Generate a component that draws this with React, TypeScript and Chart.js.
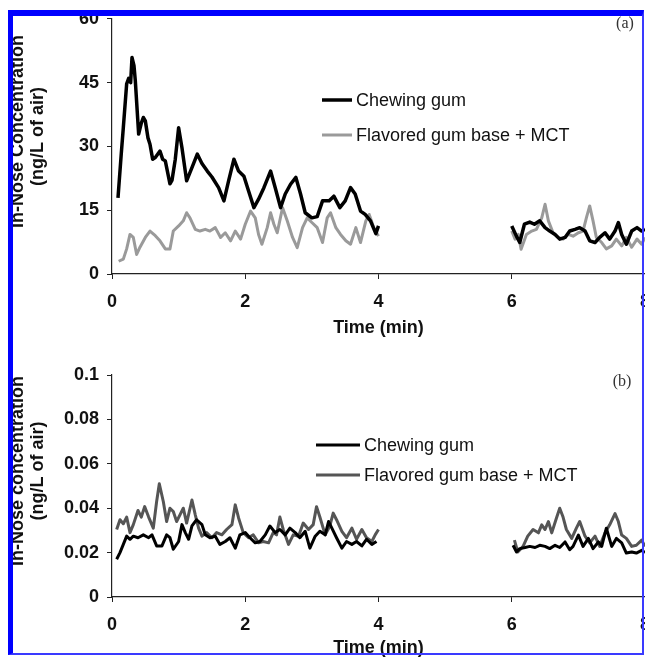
import React, { useEffect, useRef } from 'react';
import { Chart, registerables } from 'chart.js';

Chart.register(...registerables);

// ---------- data ----------
const timeTicks = [0, 2, 4, 6, 8];
const aTicks = [0, 15, 30, 45, 60];
const bTicks = [0, 0.02, 0.04, 0.06, 0.08, 0.1];
const seriesNames = ['Chewing gum', 'Flavored gum base + MCT'];

// panel (a) – chewing gum (gap at 5 min)
const aChewTime = [0.09, 0.14, 0.17, 0.22, 0.25, 0.28, 0.30, 0.33, 0.35, 0.40, 0.44, 0.47, 0.50, 0.54, 0.57, 0.61, 0.65, 0.72, 0.76, 0.80, 0.87, 0.90, 0.95, 1.00, 1.05, 1.12, 1.20, 1.28, 1.35, 1.43, 1.50, 1.60, 1.68, 1.75, 1.83, 1.90, 1.98, 2.05, 2.13, 2.20, 2.28, 2.38, 2.45, 2.53, 2.60, 2.68, 2.76, 2.83, 2.90, 3.00, 3.08, 3.16, 3.26, 3.33, 3.42, 3.50, 3.58, 3.65, 3.73, 3.80, 3.88, 3.96, 4.00,
  5,
  6.00, 6.07, 6.12, 6.19, 6.27, 6.34, 6.42, 6.50, 6.57, 6.65, 6.72, 6.80, 6.87, 6.95, 7.02, 7.10, 7.17, 7.25, 7.32, 7.40, 7.47, 7.55, 7.60, 7.65, 7.72, 7.80, 7.88, 7.95, 8.00];
const aChewConc = [17.9, 28.5, 34.4, 44.7, 46.0, 45.0, 50.9, 49.0, 45.4, 32.9, 35.5, 36.8, 36.0, 32.0, 30.5, 27.0, 27.4, 28.9, 27.0, 26.6, 21.2, 22.0, 27.0, 34.4, 29.7, 21.9, 25.0, 28.2, 26.0, 24.2, 22.8, 20.3, 17.2, 21.9, 27.0, 24.2, 23.0, 19.5, 15.6, 17.6, 20.3, 24.2, 20.3, 15.6, 18.8, 21.1, 22.7, 18.8, 14.4, 13.2, 13.5, 17.2, 17.2, 18.3, 15.6, 17.2, 20.3, 18.8, 14.8, 14.0, 12.5, 9.5, 11.3,
  null,
  11.3, 8.9, 7.4, 11.7, 12.2, 11.7, 12.5, 10.9, 10.1, 9.3, 8.2, 8.6, 10.1, 10.5, 10.9, 10.1, 7.8, 7.4, 8.6, 9.7, 8.2, 10.1, 12.1, 9.3, 7.0, 10.1, 10.9, 10.1, 10.5];

// panel (a) – flavored gum base + MCT
const aFlavTime = [0.10, 0.17, 0.22, 0.27, 0.32, 0.37, 0.42, 0.50, 0.57, 0.65, 0.72, 0.80, 0.87, 0.92, 1.00, 1.07, 1.12, 1.17, 1.25, 1.32, 1.40, 1.47, 1.55, 1.63, 1.70, 1.78, 1.85, 1.93, 2.00, 2.08, 2.15, 2.20, 2.25, 2.33, 2.38, 2.43, 2.48, 2.56, 2.63, 2.71, 2.78, 2.86, 2.93, 3.00, 3.08, 3.16, 3.23, 3.28, 3.36, 3.43, 3.51, 3.58, 3.66, 3.73, 3.81, 3.86, 3.93, 4.00,
  5,
  6.00, 6.05, 6.10, 6.14, 6.22, 6.30, 6.37, 6.45, 6.50, 6.55, 6.62, 6.70, 6.77, 6.85, 6.92, 7.00, 7.07, 7.12, 7.17, 7.22, 7.27, 7.35, 7.42, 7.50, 7.57, 7.65, 7.72, 7.80, 7.88, 7.95, 8.00];
const aFlavConc = [3.0, 3.5, 5.9, 9.3, 8.6, 4.6, 6.3, 8.6, 10.1, 9.0, 7.8, 5.9, 5.9, 10.1, 11.3, 12.5, 14.4, 13.2, 10.5, 10.1, 10.5, 10.1, 10.9, 8.6, 9.7, 7.8, 10.1, 8.2, 11.7, 14.8, 13.2, 9.3, 7.0, 10.9, 14.4, 11.7, 9.7, 15.6, 12.5, 8.6, 6.2, 10.9, 13.2, 12.1, 10.9, 7.4, 13.2, 14.4, 10.9, 9.3, 7.8, 7.0, 10.9, 7.4, 12.5, 14.0, 10.9, 8.9,
  null,
  10.1, 8.2, 9.3, 5.8, 9.3, 10.1, 10.5, 13.2, 16.4, 12.5, 9.7, 8.6, 8.2, 9.3, 8.9, 9.7, 10.1, 13.2, 16.0, 12.5, 8.6, 7.4, 5.9, 6.6, 8.2, 6.6, 8.6, 6.3, 8.2, 7.0, 8.6];

// panel (b) – chewing gum
const bChewTime = [0.07, 0.12, 0.17, 0.22, 0.27, 0.32, 0.39, 0.47, 0.55, 0.60, 0.67, 0.75, 0.82, 0.87, 0.92, 1.00, 1.05, 1.10, 1.15, 1.20, 1.27, 1.35, 1.40, 1.47, 1.55, 1.62, 1.70, 1.77, 1.85, 1.92, 2.00, 2.07, 2.15, 2.22, 2.30, 2.37, 2.45, 2.52, 2.60, 2.67, 2.75, 2.82, 2.90, 2.97, 3.05, 3.12, 3.20, 3.25, 3.30, 3.37, 3.45, 3.52, 3.60, 3.67, 3.75, 3.82, 3.90, 3.97,
  5,
  6.02, 6.07, 6.12, 6.20, 6.27, 6.35, 6.42, 6.50, 6.57, 6.65, 6.72, 6.80, 6.87, 6.92, 7.00, 7.07, 7.15, 7.22, 7.30, 7.35, 7.42, 7.50, 7.57, 7.65, 7.72, 7.80, 7.87, 7.95, 8.00];
const bChewConc = [0.017, 0.020, 0.0237, 0.0274, 0.026, 0.0274, 0.0267, 0.028, 0.0267, 0.028, 0.023, 0.023, 0.028, 0.0267, 0.0215, 0.025, 0.0326, 0.029, 0.026, 0.032, 0.0348, 0.0326, 0.028, 0.0267, 0.0274, 0.0237, 0.025, 0.0267, 0.022, 0.028, 0.029, 0.0267, 0.0244, 0.025, 0.028, 0.032, 0.029, 0.0304, 0.028, 0.031, 0.029, 0.0267, 0.0296, 0.022, 0.0274, 0.0296, 0.028, 0.034, 0.031, 0.0267, 0.022, 0.025, 0.0237, 0.025, 0.023, 0.026, 0.0237, 0.025,
  null,
  0.0233, 0.0203, 0.0218, 0.0223, 0.0228, 0.0223, 0.0233, 0.0228, 0.0218, 0.0233, 0.0223, 0.0248, 0.0213, 0.0228, 0.0279, 0.0228, 0.0264, 0.0218, 0.0248, 0.0228, 0.031, 0.0228, 0.0264, 0.0244, 0.0198, 0.0203, 0.0198, 0.021, 0.020];

// panel (b) – flavored gum base + MCT
const bFlavTime = [0.07, 0.12, 0.17, 0.22, 0.27, 0.32, 0.39, 0.44, 0.49, 0.55, 0.62, 0.67, 0.71, 0.77, 0.82, 0.87, 0.92, 0.97, 1.02, 1.07, 1.12, 1.20, 1.25, 1.30, 1.35, 1.42, 1.50, 1.57, 1.65, 1.72, 1.80, 1.85, 1.90, 1.97, 2.05, 2.12, 2.20, 2.27, 2.35, 2.42, 2.47, 2.52, 2.57, 2.65, 2.72, 2.80, 2.87, 2.95, 3.02, 3.07, 3.12, 3.20, 3.27, 3.32, 3.37, 3.45, 3.52, 3.60, 3.67, 3.75, 3.82, 3.90, 3.95, 4.00,
  5,
  6.04, 6.09, 6.17, 6.24, 6.32, 6.40, 6.45, 6.50, 6.55, 6.60, 6.67, 6.72, 6.77, 6.82, 6.90, 6.97, 7.02, 7.10, 7.17, 7.25, 7.32, 7.40, 7.47, 7.55, 7.60, 7.65, 7.72, 7.80, 7.87, 7.95, 8.00];
const bFlavConc = [0.0304, 0.0348, 0.033, 0.036, 0.029, 0.0326, 0.039, 0.036, 0.0407, 0.036, 0.031, 0.043, 0.051, 0.043, 0.034, 0.040, 0.0385, 0.034, 0.037, 0.040, 0.0333, 0.0437, 0.037, 0.031, 0.0274, 0.029, 0.0267, 0.029, 0.028, 0.0304, 0.0326, 0.0415, 0.0356, 0.029, 0.0267, 0.028, 0.0244, 0.025, 0.0244, 0.029, 0.028, 0.036, 0.0304, 0.0237, 0.028, 0.0274, 0.0333, 0.0304, 0.0326, 0.0407, 0.036, 0.028, 0.032, 0.0378, 0.0348, 0.0296, 0.0267, 0.031, 0.026, 0.0304, 0.0267, 0.025, 0.028, 0.0304,
  null,
  0.0256, 0.0203, 0.0228, 0.0274, 0.0304, 0.0289, 0.0325, 0.0304, 0.034, 0.0289, 0.0355, 0.040, 0.036, 0.0304, 0.0264, 0.031, 0.034, 0.0274, 0.0244, 0.0274, 0.0228, 0.0289, 0.0325, 0.0376, 0.034, 0.0279, 0.0264, 0.0228, 0.0233, 0.0256, 0.0228];

// ---------- helpers ----------
const FONT = '"Liberation Sans", Arial, Helvetica, sans-serif';
const toPoints = (t: number[], v: (number | null)[]) => t.map((x, i) => ({ x, y: v[i] }));

const overlayPlugin = {
  id: 'overlay',
  afterDraw(chart: any, _args: any, opts: any) {
    const ctx = chart.ctx as CanvasRenderingContext2D;
    ctx.save();
    chart.data.datasets.forEach((ds: any, i: number) => {
      const y = opts.legendY + i * opts.legendDy;
      ctx.strokeStyle = ds.borderColor;
      ctx.lineWidth = ds.borderWidth;
      ctx.beginPath();
      ctx.moveTo(opts.legendX, y);
      ctx.lineTo(opts.legendX + opts.lineLen, y);
      ctx.stroke();
      ctx.fillStyle = '#111';
      ctx.font = `18px ${FONT}`;
      ctx.textAlign = 'left';
      ctx.textBaseline = 'middle';
      ctx.fillText(ds.label, opts.legendX + opts.lineLen + 4, y + 1);
    });
    ctx.fillStyle = '#333';
    ctx.font = '16px "Liberation Serif", "Times New Roman", serif';
    ctx.textAlign = 'center';
    ctx.textBaseline = 'middle';
    ctx.fillText(opts.panelLabel, opts.panelX, opts.panelY);
    ctx.restore();
  },
};

function makeConfig(p: {
  datasets: any[];
  yMax: number;
  yStep: number;
  yTitle: string[];
  top: number;
  xHeight: number;
  xTitlePad: number;
  yFmt: (v: number) => string;
  overlay: any;
}) {
  return {
    type: 'line' as const,
    data: { datasets: p.datasets },
    plugins: [overlayPlugin],
    options: {
      animation: false as const,
      responsive: false,
      devicePixelRatio: 1,
      layout: { padding: { left: 0, right: 55, top: p.top, bottom: 0 } },
      elements: { point: { radius: 0 }, line: { tension: 0, borderJoinStyle: 'round' as const } },
      plugins: {
        legend: { display: false },
        tooltip: { enabled: false },
        overlay: p.overlay,
      },
      scales: {
        x: {
          type: 'linear' as const,
          min: 0,
          max: 8,
          afterBuildTicks: (s: any) => { s.ticks = timeTicks.map((v) => ({ value: v })); },
          afterFit: (s: any) => { s.height = p.xHeight; },
          ticks: { color: '#111', font: { family: FONT, size: 18, weight: 'bold' as const }, padding: 12, maxRotation: 0, autoSkip: false },
          grid: { display: true, drawOnChartArea: false, drawTicks: true, tickLength: 5, color: '#222', lineWidth: 1 },
          border: { display: true, color: '#222', width: 1.2 },
          title: { display: true, text: 'Time (min)', color: '#111', font: { family: FONT, size: 18, weight: 'bold' as const }, padding: { top: 0, bottom: p.xTitlePad } },
        },
        y: {
          type: 'linear' as const,
          min: 0,
          max: p.yMax,
          afterBuildTicks: (s: any) => { s.ticks = (p.yMax > 1 ? aTicks : bTicks).map((v) => ({ value: v })); },
          afterFit: (s: any) => { s.width = 112; },
          ticks: { color: '#111', font: { family: FONT, size: 18, weight: 'bold' as const }, padding: 8, callback: (v: any) => p.yFmt(Number(v)) },
          grid: { display: true, drawOnChartArea: false, drawTicks: true, tickLength: 5, color: '#222', lineWidth: 1 },
          border: { display: true, color: '#222', width: 1.2 },
          title: { display: true, text: p.yTitle, color: '#111', font: { family: FONT, size: 18, weight: 'bold' as const, lineHeight: 1.1 }, padding: { top: 8, bottom: 0 } },
        },
      },
    },
  };
}

export default function App() {
  const refA = useRef<HTMLCanvasElement>(null);
  const refB = useRef<HTMLCanvasElement>(null);

  useEffect(() => {
    const chartA = new Chart(refA.current as HTMLCanvasElement, makeConfig({
      datasets: [
        { label: seriesNames[0], data: toPoints(aChewTime, aChewConc), borderColor: '#000000', borderWidth: 3.5, spanGaps: false },
        { label: seriesNames[1], data: toPoints(aFlavTime, aFlavConc), borderColor: '#9a9a9a', borderWidth: 3, spanGaps: false },
      ],
      yMax: 60,
      yStep: 15,
      yTitle: ['      In-Nose Concentration', '    (ng/L of air)'],
      top: 18,
      xHeight: 76,
      xTitlePad: 11,
      yFmt: (v) => String(v),
      overlay: { legendX: 322, legendY: 100, legendDy: 35, lineLen: 30, panelLabel: '(a)', panelX: 625, panelY: 24 },
    }) as any);

    const chartB = new Chart(refB.current as HTMLCanvasElement, makeConfig({
      datasets: [
        { label: seriesNames[0], data: toPoints(bChewTime, bChewConc), borderColor: '#000000', borderWidth: 3, spanGaps: false },
        { label: seriesNames[1], data: toPoints(bFlavTime, bFlavConc), borderColor: '#555555', borderWidth: 3, spanGaps: false },
      ],
      yMax: 0.1,
      yStep: 0.02,
      yTitle: ['      In-Nose concentration', '      (ng/L of air)'],
      top: 25,
      xHeight: 83,
      xTitlePad: 21,
      yFmt: (v) => String(+v.toFixed(2)),
      overlay: { legendX: 316, legendY: 95, legendDy: 30, lineLen: 44, panelLabel: '(b)', panelX: 622, panelY: 32 },
    }) as any);

    return () => {
      chartA.destroy();
      chartB.destroy();
    };
  }, []);

  return (
    <div style={{ position: 'absolute', left: 0, top: 0, width: 645, height: 657, overflow: 'hidden', background: '#fff' }}>
      <canvas ref={refA} width={700} height={350} style={{ position: 'absolute', left: 0, top: 0 }} />
      <canvas ref={refB} width={700} height={330} style={{ position: 'absolute', left: 0, top: 350 }} />
      <div
        style={{
          position: 'absolute',
          left: 8,
          top: 10,
          width: 636,
          height: 645,
          boxSizing: 'border-box',
          borderLeft: '5px solid #0000ff',
          borderTop: '6px solid #0000ff',
          borderRight: '2px solid #3a3aff',
          borderBottom: '2px solid #3a3aff',
          pointerEvents: 'none',
        }}
      />
    </div>
  );
}
